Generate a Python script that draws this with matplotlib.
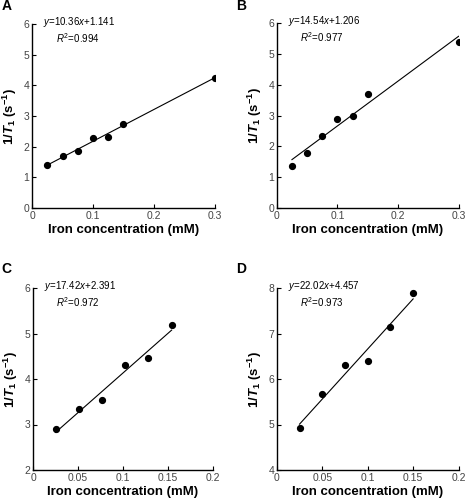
import matplotlib
matplotlib.use('Agg')
import matplotlib.pyplot as plt
import numpy as np

plt.rcParams['font.family'] = ['Liberation Sans', 'DejaVu Sans']
plt.rcParams['mathtext.fontset'] = 'custom'
plt.rcParams['mathtext.rm'] = 'Liberation Sans'
plt.rcParams['mathtext.it'] = 'Liberation Sans:italic'
plt.rcParams['mathtext.bf'] = 'Liberation Sans:bold'
plt.rcParams['mathtext.bfit'] = 'Liberation Sans:italic:bold'

# ── data ──────────────────────────────────────────────
x_a = [0.025, 0.05, 0.075, 0.1, 0.125, 0.15, 0.3]
y_a = [1.40, 1.70, 1.87, 2.27, 2.32, 2.75, 4.25]
x_b = [0.025, 0.05, 0.075, 0.1, 0.125, 0.15, 0.3]
y_b = [1.35, 1.80, 2.35, 2.88, 3.00, 3.70, 5.40]
x_c = [0.025, 0.051, 0.077, 0.102, 0.128, 0.154]
y_c = [2.90, 3.33, 3.54, 4.30, 4.46, 5.19]
x_d = [0.025, 0.05, 0.075, 0.1, 0.125, 0.15]
y_d = [4.93, 5.66, 6.30, 6.39, 7.15, 7.88]

fits = [(10.36, 1.141, 0.994), (14.54, 1.206, 0.977),
        (17.42, 2.391, 0.972), (22.02, 4.457, 0.973)]
letters = ['A', 'B', 'C', 'D']
xlims = [(0, 0.3), (0, 0.3), (0, 0.2), (0, 0.2)]
xticks = [[0, 0.1, 0.2, 0.3], [0, 0.1, 0.2, 0.3],
          [0, 0.05, 0.1, 0.15, 0.2], [0, 0.05, 0.1, 0.15, 0.2]]
xticklabels = [['0', '0.1', '0.2', '0.3'], ['0', '0.1', '0.2', '0.3'],
               ['0', '0.05', '0.1', '0.15', '0.2'], ['0', '0.05', '0.1', '0.15', '0.2']]
ylims = [(0, 6), (0, 6), (2, 6), (4, 8)]

xs = [x_a, x_b, x_c, x_d]
ys = [y_a, y_b, y_c, y_d]

# axes rectangles (figure fraction)
rects = [[0.069, 0.584, 0.392, 0.368],
         [0.594, 0.584, 0.390, 0.370],
         [0.071, 0.060, 0.386, 0.364],
         [0.594, 0.060, 0.390, 0.364]]
letter_pos = [(0.004, 0.988), (0.506, 0.988), (0.004, 0.462), (0.506, 0.462)]

fig = plt.figure(figsize=(4.66, 5.0), dpi=100)

for i in range(4):
    ax = fig.add_axes(rects[i])
    x = np.array(xs[i]); y = np.array(ys[i])
    k, b, r2 = fits[i]
    ax.plot(x, y, 'o', color='black', markersize=4.2)
    xl = np.array([x.min(), x.max()])
    ax.plot(xl, k * xl + b, color='black', lw=0.8)

    ax.set_xlim(xlims[i]); ax.set_ylim(ylims[i])
    ax.set_xticks(xticks[i]); ax.set_xticklabels(xticklabels[i])
    ax.set_yticks(np.arange(ylims[i][0], ylims[i][1] + 1, 1))
    for s in ['top', 'right']:
        ax.spines[s].set_visible(False)
    for s in ['left', 'bottom']:
        ax.spines[s].set_linewidth(1.0)
    ax.tick_params(direction='in', length=3, width=0.8, labelsize=7.5,
                   labelcolor='#444444', pad=2)

    ax.set_xlabel('Iron concentration (mM)', fontsize=9.5, fontweight='bold', labelpad=2)
    ax.set_ylabel(r'1/$\mathbfit{T}_{\mathbf{1}}$ (s$^{\mathbf{-1}}$)',
                  fontsize=9.5, fontweight='bold', labelpad=3)

    ax.text(0.06, 1.01, r'$\it{y}$=%.2f$\it{x}$+%.3f' % (k, b),
            transform=ax.transAxes, fontsize=7, va='center', ha='left')
    ax.text(0.13, 0.925, r'$R^2$=%.3f' % r2,
            transform=ax.transAxes, fontsize=7, va='center', ha='left')

    fig.text(letter_pos[i][0], letter_pos[i][1], letters[i],
             fontsize=10, fontweight='bold', va='center', ha='left')

plt.savefig('out.png', dpi=100)
plt.close()
